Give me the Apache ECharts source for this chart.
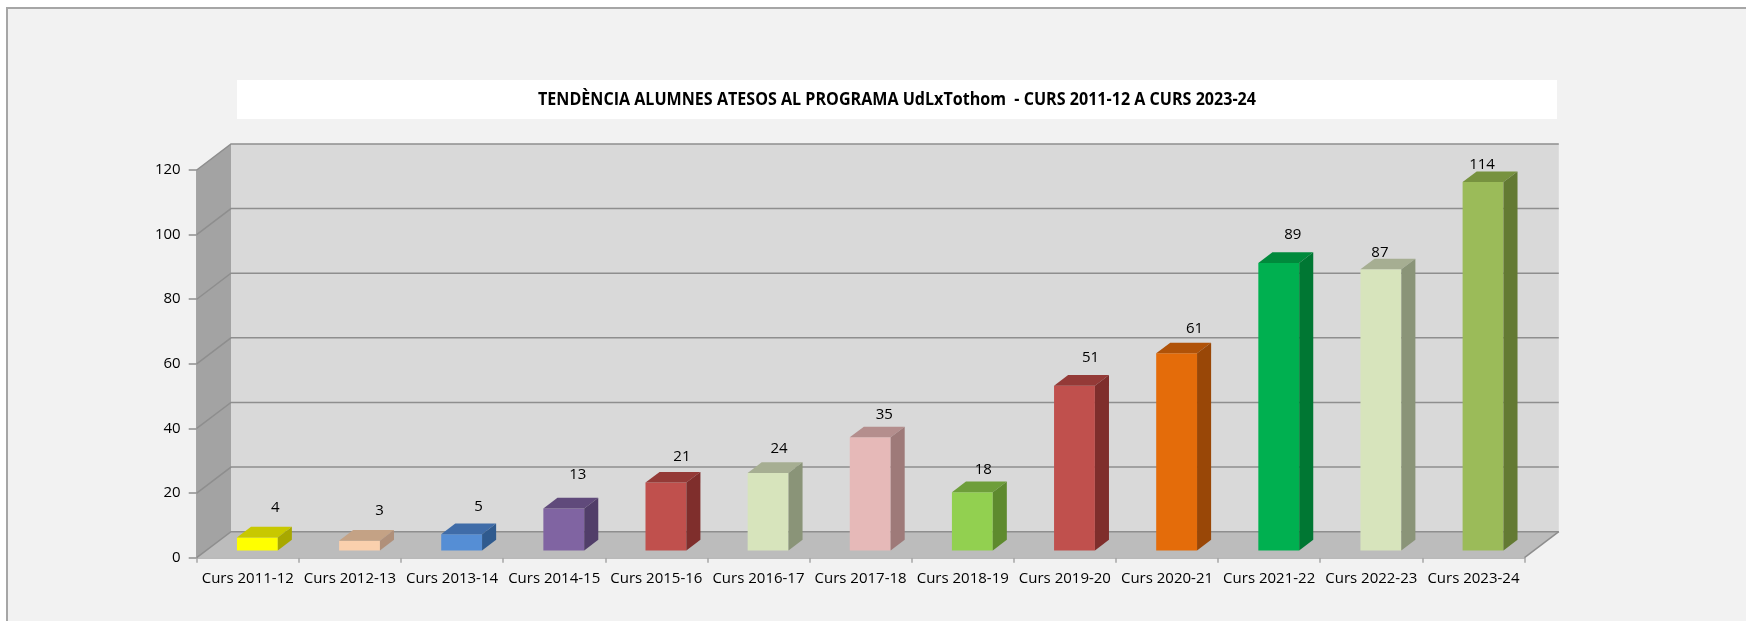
<!DOCTYPE html>
<html>
<head>
<meta charset="utf-8">
<script src="https://cdn.jsdelivr.net/npm/echarts@6/dist/echarts.min.js"></script>
<style>
html,body{margin:0;padding:0;background:#fff;}
#main{width:1746px;height:621px;}
</style>
</head>
<body>
<div id="main"></div>
<script>
// dades del gràfic
var cursos = ['Curs 2011-12','Curs 2012-13','Curs 2013-14','Curs 2014-15','Curs 2015-16','Curs 2016-17','Curs 2017-18',
  'Curs 2018-19','Curs 2019-20','Curs 2020-21','Curs 2021-22','Curs 2022-23','Curs 2023-24'];
var alumnes = [4, 3, 5, 13, 21, 24, 35, 18, 51, 61, 89, 87, 114];
var yTicks = [0, 20, 40, 60, 80, 100, 120];
var titol = 'TENDÈNCIA ALUMNES ATESOS AL PROGRAMA UdLxTothom  - CURS 2011-12 A CURS 2023-24';

// colors (cara frontal, cara superior, lateral)
var colFront = ['#FFFF00','#FAD0AD','#558ED5','#8064A2','#C0504D','#D7E4BC','#E6B9B8','#92D050','#C0504D','#E46C0A','#00B050','#D7E4BC','#9BBB59'];
var colTop   = ['#C8C800','#C4A285','#3F6CA8','#604A7B','#943A37','#A6AE92','#B48E8D','#6E9E3A','#943A37','#B05208','#008A3C','#A6AE92','#77923F'];
var colSide  = ['#A8A800','#B0907A','#2F5A8E','#513E69','#7F2E2C','#8A9478','#9E7A79','#5E8A2E','#7F2E2C','#994707','#007733','#8A9478','#637A33'];

// posició de les etiquetes respecte a la cara frontal (px)
var etiqDx = [18, 20, 17, 14, 16, 11, 14, 11, 16, 18, 14, -1, -1];
var etiqDy = [30, 30, 28, 34, 26, 24, 23, 23, 28, 25, 28, 17, 17];

// perspectiva 3D
var DX = 34.3, DY = 26;          // profunditat del fons
var BAR_Z = 0.28, BAR_D = 0.41;  // posició i gruix de les barres en profunditat

var chart = echarts.init(document.getElementById('main'));

//amplada del títol com a l'original
var titolFont = 'bold 18px "Open Sans"';
var ctx = document.createElement('canvas').getContext('2d');
ctx.font = titolFont;
var titolScale = 718 / ctx.measureText(titol).width;

function renderWalls(params, api){
  var cs = params.coordSys;
  var x0 = cs.x, x1 = cs.x + cs.width, yt = cs.y, yb = cs.y + cs.height;
  var ch = [];
  //paret del fons
  ch.push({type:'polygon', shape:{points:[[x0+DX,yt-DY],[x1+DX,yt-DY],[x1+DX,yb-DY],[x0+DX,yb-DY]]}, style:{fill:'#D9D9D9'}});
  //paret lateral
  ch.push({type:'polygon', shape:{points:[[x0,yt],[x0+DX,yt-DY],[x0+DX,yb-DY],[x0,yb]]}, style:{fill:'#A3A3A3'}});
  //terra
  ch.push({type:'polygon', shape:{points:[[x0,yb],[x0+DX,yb-DY],[x1+DX,yb-DY],[x1,yb]]}, style:{fill:'#BCBCBC'}});
  //línies de graella
  yTicks.forEach(function(v){
    var y = api.coord([0, v])[1];
    ch.push({type:'polyline', shape:{points:[[x0,y],[x0+DX,y-DY],[x1+DX,y-DY]]},
      style:{stroke:'#8E8E8E', lineWidth:1.5, fill:null}});
  });
  ch.push({type:'line', shape:{x1:x1, y1:yb, x2:x1+DX, y2:yb-DY}, style:{stroke:'#8E8E8E', lineWidth:1.5}});
  return {type:'group', children:ch};
}

function renderBar(params, api){
  var i = params.dataIndex;
  var v = api.value(1);
  var base = api.coord([api.value(0), 0]);
  var top = api.coord([api.value(0), v]);
  var w = api.size([1, 0])[0] * 0.4;
  var xl = base[0] - w / 2 + DX * BAR_Z, xr = xl + w;
  var yb = base[1] - DY * BAR_Z, yt = top[1] - DY * BAR_Z;
  var dx = DX * BAR_D, dy = DY * BAR_D;
  return {type:'group', children:[
    {type:'rect', shape:{x:xl, y:yt, width:w, height:yb-yt}, style:{fill:colFront[i]}},
    {type:'polygon', shape:{points:[[xl,yt],[xr,yt],[xr+dx,yt-dy],[xl+dx,yt-dy]]}, style:{fill:colTop[i]}},
    {type:'polygon', shape:{points:[[xr,yt],[xr+dx,yt-dy],[xr+dx,yb-dy],[xr,yb]]}, style:{fill:colSide[i]}},
    {type:'text', x:(xl+xr)/2 + etiqDx[i], y:yt - etiqDy[i],
      style:{text:String(v), fill:'#000', font:'15px "Open Sans"', align:'center', verticalAlign:'middle'}}
  ]};
}

var option = {
  backgroundColor: '#fff',
  animation: false,
  graphic: [
    {type:'rect', z:-10, shape:{x:7, y:8, width:2000, height:1000}, style:{fill:'#F2F2F2', stroke:'#A6A6A6', lineWidth:2}},
    {type:'rect', z:-9, shape:{x:237, y:80, width:1320, height:39}, style:{fill:'#fff'}},
    {type:'text', z:-8, x:897, y:99.5, scaleX:titolScale,
      style:{text:titol, fill:'#000', align:'center', verticalAlign:'middle', font:titolFont}}
  ],
  grid: {left:196.7, right:221.5, top:170, bottom:63.3, containLabel:false},
  xAxis: {
    type:'category', data:cursos,
    axisLine:{lineStyle:{color:'#A6A6A6', width:1.5}},
    axisTick:{show:true, length:5, lineStyle:{color:'#A6A6A6', width:1.5}},
    axisLabel:{color:'#000', fontSize:15, fontFamily:'Open Sans', margin:14, interval:0}
  },
  yAxis: {
    type:'value', min:0, max:120, interval:20,
    axisLine:{show:true, lineStyle:{color:'#8E8E8E', width:1.5}},
    axisTick:{show:true, length:8, lineStyle:{color:'#8E8E8E', width:1.5}},
    axisLabel:{color:'#000', fontSize:15, fontFamily:'Open Sans', margin:16},
    splitLine:{show:false}
  },
  series: [
    {type:'custom', z:1, silent:true, clip:false, renderItem:renderWalls, data:[[0, 0]]},
    {type:'custom', z:3, clip:false, renderItem:renderBar,
      data: alumnes.map(function(v, i){ return [i, v]; })}
  ]
};
chart.setOption(option);
</script>
</body>
</html>
